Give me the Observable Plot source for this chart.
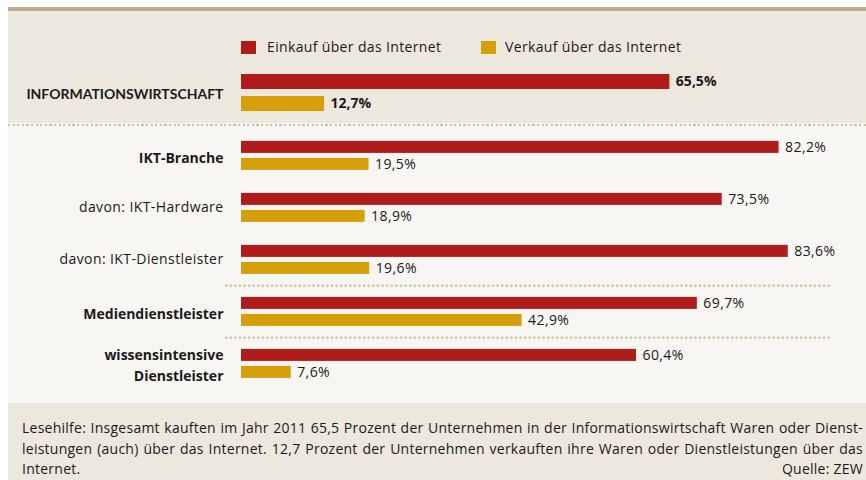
<!DOCTYPE html>
<html><head><meta charset="utf-8">
<script src="https://cdn.jsdelivr.net/npm/d3@7"></script>
<script src="https://cdn.jsdelivr.net/npm/@observablehq/plot@0.6"></script>
<style>
html,body{margin:0;padding:0;background:#fff;}
#wrap{position:relative;width:866px;height:480px;overflow:hidden;font-family:"Open Sans",Lato,sans-serif;color:#1a1a1a;}
.abs{position:absolute;}
.dots{height:2.3px;background:repeating-linear-gradient(to right,#cdc19f 0 2.3px,transparent 2.3px 4.6px);}
#legend .item{position:absolute;top:41px;height:13px;font-size:14px;line-height:13px;white-space:nowrap;letter-spacing:0.35px;}
#legend .sw{position:absolute;left:0;top:0;width:15px;height:13px;}
#legend .lab{position:absolute;top:-1px;}
#note{font-size:14px;line-height:20.5px;letter-spacing:0.25px;}
#note .j{text-align:justify;text-align-last:justify;white-space:nowrap;}
#note .last{display:flex;justify-content:space-between;}
</style></head><body>
<div id="wrap">
  <div class="abs" style="left:8px;top:7px;width:858px;height:4px;background:#bcad8d"></div>
  <div class="abs" style="left:8px;top:11px;width:858px;height:112px;background:#ede8dd"></div>
  <div class="abs" style="left:8px;top:123px;width:858px;height:280px;background:#f7f6f2"></div>
  <div class="abs" style="left:8px;top:403px;width:858px;height:77px;background:#ede8dd"></div>
  <div class="abs dots" style="left:8px;top:124px;width:858px"></div>
  <div id="legend" class="abs" style="left:0;top:0;width:866px;height:60px"></div>
  <div id="plotA" class="abs" style="left:0;top:0"></div>
  <div id="plotB" class="abs" style="left:0;top:0"></div>
  <div id="note" class="abs" style="left:22px;top:418px;width:841px"></div>
</div>
<script>
// ---- data ----
const categories = ["INFORMATIONSWIRTSCHAFT", "IKT-Branche", "davon: IKT-Hardware", "davon: IKT-Dienstleister", "Mediendienstleister", "wissensintensive\nDienstleister"];
const series = ["Einkauf über das Internet", "Verkauf über das Internet"];
const einkauf = [65.5, 82.2, 73.5, 83.6, 69.7, 60.4];
const verkauf = [12.7, 19.5, 18.9, 19.6, 42.9, 7.6];
const colors = ["#b01b1c", "#d49f0b"];
const separatorsBefore = ["Mediendienstleister", "wissensintensive\nDienstleister"];
const noteLines = [
  "Lesehilfe: Insgesamt kauften im Jahr 2011 65,5 Prozent der Unternehmen in der Informationswirtschaft Waren oder Dienst-",
  "leistungen (auch) über das Internet. 12,7 Prozent der Unternehmen verkauften ihre Waren oder Dienstleistungen über das",
  "Internet."
];
const source = "Quelle: ZEW";

// ---- table ----
const rows = [];
categories.forEach((g, i) => {
  rows.push({group: g, series: series[0], value: einkauf[i]});
  rows.push({group: g, series: series[1], value: verkauf[i]});
});
const fmt = v => v.toFixed(1).replace(".", ",") + "%";
const rowsA = rows.filter(d => d.group === categories[0]);
const rowsB = rows.filter(d => d.group !== categories[0]);
const ink = "#1a1a1a";
const X = {domain: [0, 100], range: [241, 895], axis: null};
const C = {domain: series, range: colors};
const baseStyle = {background: "transparent", overflow: "visible", fontFamily: "'Open Sans', Lato, sans-serif", fontSize: "14px", letterSpacing: "0.4px"};

// ---- legend ----
const legend = document.getElementById("legend");
const legX = [241, 481];
series.forEach((s, i) => {
  const it = document.createElement("div");
  it.className = "item";
  it.style.left = legX[i] + "px";
  it.innerHTML = `<div class="sw" style="background:${colors[i]}"></div><div class="lab" style="left:${i === 0 ? 26 : 24}px">${s}</div>`;
  legend.appendChild(it);
});

// ---- top panel ----
const plotA = Plot.plot({
  width: 866, height: 122,
  marginTop: 67, marginBottom: 4, marginLeft: 0, marginRight: 0,
  x: X,
  y: {domain: series, padding: 0.318, axis: null},
  color: C,
  style: baseStyle,
  marks: [
    Plot.barX(rowsA, {x: "value", y: "series", fill: "series"}),
    Plot.text(rowsA, {x: "value", y: "series", text: d => fmt(d.value), dx: 6, textAnchor: "start", fontSize: 14, fontWeight: "bold", fill: ink}),
    Plot.text(rowsA, {filter: d => d.series === series[0], x: 0, dx: -18, dy: 2, text: "group", textAnchor: "end", fontSize: 14, fontWeight: "bold", fontFamily: "Lato, sans-serif", fill: ink})
  ]
});
document.getElementById("plotA").appendChild(plotA);

// ---- lower panel ----
const plotB = Plot.plot({
  width: 866, height: 402,
  marginTop: 134.1, marginBottom: 18.5, marginLeft: 0, marginRight: 0,
  x: X,
  y: {domain: series, padding: 0.294, axis: null},
  fy: {domain: categories.slice(1), paddingInner: 0.2587, paddingOuter: 0, axis: null},
  color: C,
  facet: {data: rowsB, y: "group"},
  style: baseStyle,
  marks: [
    Plot.ruleY(rowsB, {filter: d => d.series === series[0] && separatorsBefore.includes(d.group), y: "series", x1: 0, x2: 92.5, dx: -16, dy: -17.8, stroke: "#cdc19f", strokeWidth: 2.3, strokeDasharray: "2.3,2.3"}),
    Plot.barX(rowsB, {x: "value", y: "series", fill: "series"}),
    Plot.text(rowsB, {x: "value", y: "series", text: d => fmt(d.value), dx: 6, textAnchor: "start", fontSize: 14, fill: ink}),
    Plot.text(rowsB, {filter: d => d.series === series[0] && !d.group.startsWith("davon"), x: 0, dx: -18, text: "group", textAnchor: "end", fontSize: 14, fontWeight: "bold", lineHeight: 1.45, fill: ink}),
    Plot.text(rowsB, {filter: d => d.series === series[0] && d.group.startsWith("davon"), x: 0, dx: -18, text: "group", textAnchor: "end", fontSize: 14, fill: ink})
  ]
});
document.getElementById("plotB").appendChild(plotB);
// bold labels keep normal spacing
[plotA, plotB].forEach(p => p.querySelectorAll('g[font-weight="bold"]').forEach(g => g.style.letterSpacing = "0"));

// ---- footnote ----
const note = document.getElementById("note");
noteLines.forEach((t, i) => {
  const div = document.createElement("div");
  if (i < noteLines.length - 1) { div.className = "j"; div.textContent = t; }
  else { div.className = "last"; div.innerHTML = `<span>${t}</span><span>${source}</span>`; }
  note.appendChild(div);
});
</script>
</body></html>
